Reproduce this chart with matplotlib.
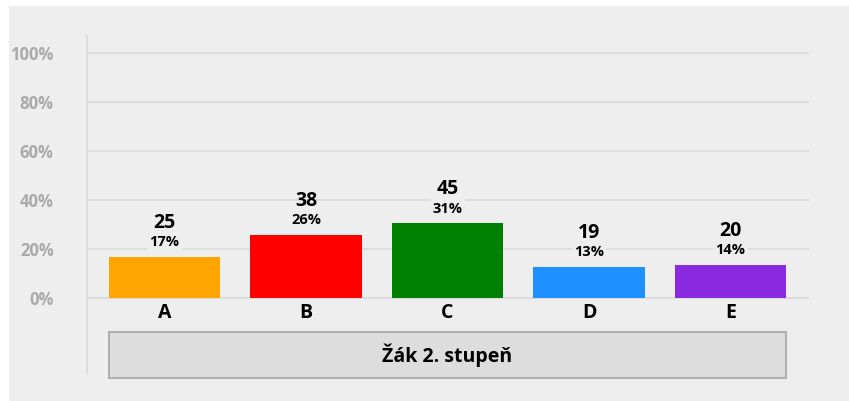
import matplotlib
matplotlib.use("Agg")
import matplotlib.pyplot as plt
from matplotlib.patches import Rectangle

CATEGORIES = ["A", "B", "C", "D", "E"]
COUNTS = [25, 38, 45, 19, 20]
PERCENT_LABELS = ["17%", "26%", "31%", "13%", "14%"]
COLORS = ["#ffa500", "#ff0000", "#008000", "#1e90ff", "#8a2be2"]
GROUP_LABEL = "Žák 2. stupeň"
Y_TICKS = [0, 20, 40, 60, 80, 100]

W, H = 849, 401


def main():
    plt.rcParams["font.family"] = ["Open Sans", "DejaVu Sans"]
    plt.rcParams["font.weight"] = "bold"

    fig = plt.figure(figsize=(W / 100, H / 100), dpi=100, facecolor="white")
    # grey panel behind everything
    fig.patches.append(Rectangle((9 / W, 0), (W - 9) / W, (H - 6) / H,
                                 transform=fig.transFigure, facecolor="#eeeeee",
                                 edgecolor="none", zorder=-1))

    ax = fig.add_axes([87 / W, 1 - 374 / H, (809 - 87) / W, (374 - 36) / H])
    ax.set_facecolor("none")

    total = sum(COUNTS)
    shares = [c / total * 100 for c in COUNTS]
    x = list(range(len(CATEGORIES)))
    bw = 0.785

    ax.bar(x, shares, width=bw, color=COLORS, zorder=3)

    # percent scale: 100% at y=52.7px, 0% at y=298.3px
    px_per = (298.3 - 52.7) / 100
    ax.set_ylim(-(374 - 298.3) / px_per, 100 + (52.7 - 36) / px_per)
    ax.set_xlim(-(164.5 - 87) / 141.5, 4 + (809 - 730.5) / 141.5)

    for yv in Y_TICKS:
        ax.axhline(yv, color="#dddddd", lw=1.5, zorder=1)

    for s in ["top", "right", "bottom"]:
        ax.spines[s].set_visible(False)
    ax.spines["left"].set_color("#dddddd")
    ax.spines["left"].set_linewidth(1.5)

    ax.set_xticks([])
    ax.set_yticks(Y_TICKS)
    ax.set_yticklabels([f"{v}%" for v in Y_TICKS])
    ax.tick_params(axis="y", length=0, pad=24, labelsize=12, labelcolor="#aaaaaa")

    for xi, sh, cnt, pl in zip(x, shares, COUNTS, PERCENT_LABELS):
        ax.annotate(str(cnt), (xi, sh), xytext=(0, 24.5), textcoords="offset points",
                    ha="center", va="center", fontsize=14, fontweight="bold",
                    color="black", zorder=5)
        ax.annotate(pl, (xi, sh), xytext=(0, 10.4), textcoords="offset points",
                    ha="center", va="center", fontsize=10.5, fontweight="bold",
                    color="black", zorder=5,
                    bbox=dict(boxstyle="square,pad=0.15", facecolor="#eeeeee",
                              edgecolor="none"))
        ax.text(xi, -(313 - 298.3) / px_per, CATEGORIES[xi], ha="center", va="center",
                fontsize=14, fontweight="bold", color="black")

    # group label box under the categories
    y_top = -(332 - 298.3) / px_per
    y_bot = -(378 - 298.3) / px_per
    ax.add_patch(Rectangle((-bw / 2, y_bot), 4 + bw, y_top - y_bot,
                           facecolor="#dddddd", edgecolor="#b0b0b0", lw=1.5,
                           clip_on=False, zorder=4))
    ax.text(2, (y_top + y_bot) / 2, GROUP_LABEL, ha="center", va="center",
            fontsize=14, fontweight="bold", color="black", zorder=5)

    fig.savefig("out.png", dpi=100, facecolor="white")


if __name__ == "__main__":
    main()
